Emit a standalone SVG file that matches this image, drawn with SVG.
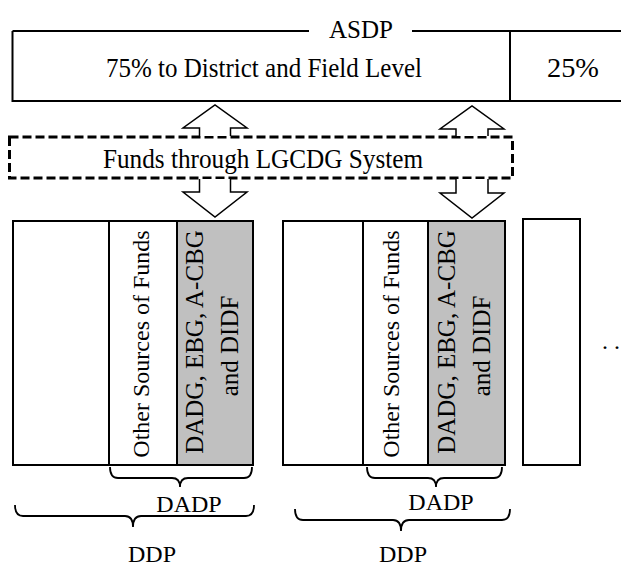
<svg xmlns="http://www.w3.org/2000/svg" width="621" height="566" viewBox="0 0 621 566">
<style>
text{font-family:"Liberation Serif","Times New Roman",serif;fill:#000}
.t27{font-size:27px}
.t25{font-size:25px}
.t24{font-size:24px}
.box{fill:#fff;stroke:#000;stroke-width:2}
.gray{fill:#c0c0c0;stroke:#000;stroke-width:2}
.ln{fill:none;stroke:#000;stroke-width:2}
.arrow{fill:#fff;stroke:#000;stroke-width:1.5;stroke-linejoin:miter}
.brace{fill:none;stroke:#000;stroke-width:1.8}
.dash{fill:none;stroke:#000;stroke-width:3;stroke-dasharray:9 4}
</style>
<rect width="621" height="566" fill="#fff"/>

<g id="asdp">
  <path class="ln" d="M12.5,31 V101 H640 M510,31 V101 M12.5,31 H309 M412,31 H640"/>
  <text class="t25" x="361" y="38" text-anchor="middle">ASDP</text>
  <text class="t27" x="264" y="77" text-anchor="middle" textLength="316" lengthAdjust="spacingAndGlyphs">75% to District and Field Level</text>
  <text class="t27" x="573" y="77" text-anchor="middle" textLength="52" lengthAdjust="spacingAndGlyphs">25%</text>
</g>

<g id="lgcdg">
  <rect class="dash" x="9.5" y="137" width="503" height="41"/>
  <text class="t27" x="263" y="168" text-anchor="middle" textLength="320" lengthAdjust="spacingAndGlyphs">Funds through LGCDG System</text>
</g>

<g id="connectors">
  <polyline class="arrow" points="199.5,136 199.5,128 183,128 215,105 247,128 230.5,128 230.5,136"/>
  <polyline class="arrow" points="199.5,179 199.5,192 183,192 215,217 247,192 230.5,192 230.5,179"/>
  <polyline class="arrow" points="456,136 456,129 440,129 472,106 504,129 488,129 488,136"/>
  <polyline class="arrow" points="456,179 456,193 440,193 472,218 504,193 488,193 488,179"/>
</g>

<g id="ddp1">
  <rect class="box" x="13" y="221" width="240" height="244"/>
  <rect class="box" x="109" y="221" width="68" height="244"/>
  <rect class="gray" x="177" y="221" width="76" height="244"/>
  <text class="t24" transform="translate(149,344) rotate(-90)" text-anchor="middle">Other Sources of Funds</text>
  <text class="t25" transform="translate(203,342) rotate(-90)" text-anchor="middle">DADG, EBG, A-CBG</text>
  <text class="t25" transform="translate(238,346) rotate(-90)" text-anchor="middle">and DIDF</text>
</g>

<g id="ddp2">
  <rect class="box" x="283" y="221" width="222" height="244"/>
  <rect class="box" x="363" y="221" width="65" height="244"/>
  <rect class="gray" x="428" y="221" width="77" height="244"/>
  <text class="t24" transform="translate(399,344) rotate(-90)" text-anchor="middle">Other Sources of Funds</text>
  <text class="t25" transform="translate(455,342) rotate(-90)" text-anchor="middle">DADG, EBG, A-CBG</text>
  <text class="t25" transform="translate(490,346) rotate(-90)" text-anchor="middle">and DIDF</text>
</g>

<g id="ddp3">
  <rect class="box" x="523" y="219" width="57" height="246"/>
  <text class="t24" x="602" y="349">. .</text>
</g>

<g id="dadp1">
  <path class="brace" d="M110,467 Q110,478 118,478 H172 Q180,478 180,487 Q180,478 188,478 H244 Q252,478 252,467"/>
  <text class="t24" x="189" y="512" text-anchor="middle">DADP</text>
</g>
<g id="ddpbrace1">
  <path class="brace" d="M15,505 Q15,516 23,516 H125 Q133,516 133,527 Q133,516 141,516 H246 Q254,516 254,505"/>
  <text class="t24" x="152" y="562" text-anchor="middle">DDP</text>
</g>
<g id="dadp2">
  <path class="brace" d="M367,467 Q367,478 375,478 H428 Q436,478 436,487 Q436,478 444,478 H494 Q502,478 502,467"/>
  <text class="t24" x="441" y="510" text-anchor="middle">DADP</text>
</g>
<g id="ddpbrace2">
  <path class="brace" d="M295,509 Q295,520 303,520 H393 Q401,520 401,531 Q401,520 409,520 H502 Q510,520 510,509"/>
  <text class="t24" x="403" y="562" text-anchor="middle">DDP</text>
</g>
</svg>
